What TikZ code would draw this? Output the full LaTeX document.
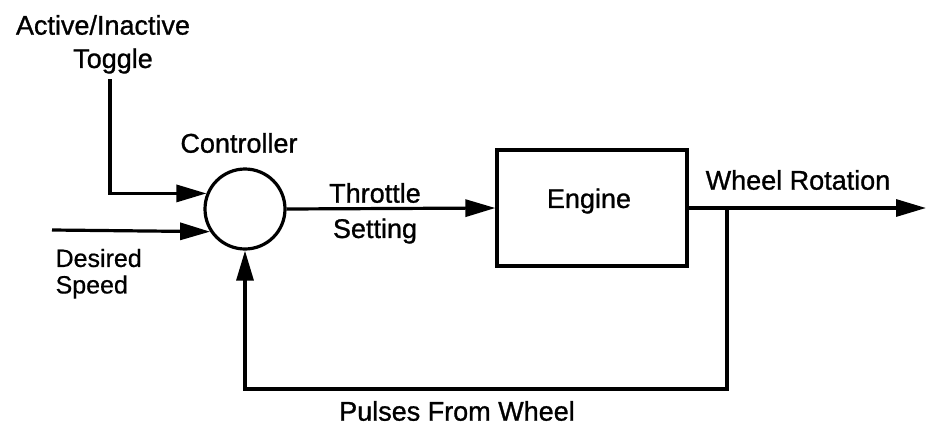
\documentclass[tikz,border=0pt]{standalone}
\usepackage{fontspec}
\setmainfont{Liberation Sans}[FakeBold=1]
\newfontfamily\deslbl{Liberation Sans}[FakeBold=0.6]
\usetikzlibrary{arrows.meta}
\begin{document}
\begin{tikzpicture}[x=1pt,y=-1pt,
  line width=3.2pt,
  lbl/.style={inner sep=0pt, font=\fontsize{27}{31}\selectfont},
  slbl/.style={inner sep=0pt, font=\deslbl\fontsize{25}{29}\selectfont},
  arr/.style={-{Triangle[length=30pt,width=17pt]}},
  sumnode/.style={circle, draw, line width=3.2pt, minimum size=80pt, inner sep=0pt},
  blk/.style={draw, line width=3.2pt, minimum width=190pt, minimum height=116pt, inner sep=0pt}]
\useasboundingbox (0,0) rectangle (927,426);
\node[sumnode] (C) at (245,209) {};
\node[blk] (E) at (592,208) {};
\node[lbl] (engt) at (589,201) {Engine};
\node[lbl] (ctl) at (239,143) {Controller};
\node[lbl] (act) at (103,25) {Active/Inactive};
\node[lbl] (tog) at (113,61) {Toggle};
\node[lbl] (thr) at (375,193) {Throttle};
\node[lbl] (set) at (375,231) {Setting};
\node[lbl] (whr) at (798,180) {Wheel Rotation};
\node[lbl] (pul) at (457,411) {Pulses From Wheel};
\node[slbl, anchor=west] (des) at (54,258) {Desired};
\node[slbl, anchor=west] (spd) at (54,287) {Speed};
\coordinate (tgtop) at (110,79);
\coordinate (dstart) at (52,230);
\coordinate (outend) at (926,208);
\coordinate (br) at (727,208);
\coordinate (fbr) at (727,389);
\coordinate (fbl) at (245,389);
\draw[arr] (tgtop) |- (C.158);
\draw[arr] (dstart) -- (C.213);
\draw[arr] (C.east) -- (E.west);
\draw[arr] (E.east) -- (outend);
\draw[arr] (br) -- (fbr) -- (fbl) -- (C.south);
\end{tikzpicture}
\end{document}
